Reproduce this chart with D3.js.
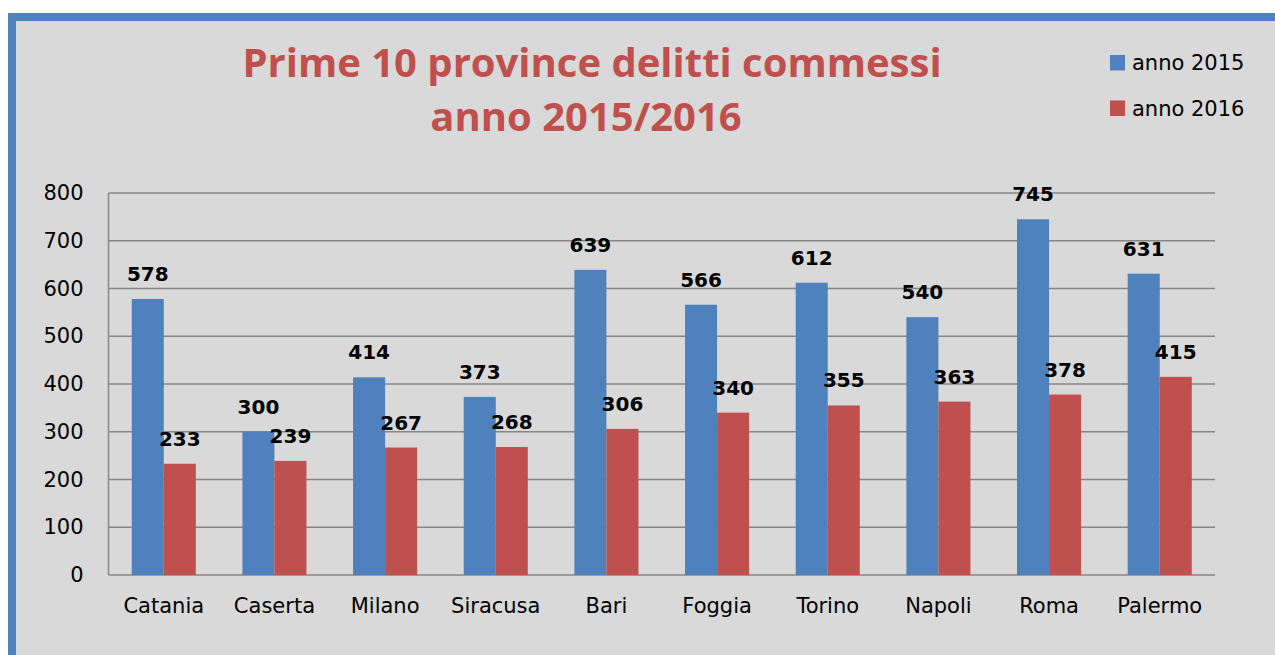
<!DOCTYPE html>
<html>
<head>
<meta charset="utf-8">
<script src="https://cdn.jsdelivr.net/npm/d3@7"></script>
<style>
  body { margin: 0; background: #fff; }
  svg { display: block; }
</style>
</head>
<body>
<div id="chart"></div>
<script>
const province = ["Catania", "Caserta", "Milano", "Siracusa", "Bari", "Foggia", "Torino", "Napoli", "Roma", "Palermo"];
const anno2015 = [578, 300, 414, 373, 639, 566, 612, 540, 745, 631];
const anno2016 = [233, 239, 267, 268, 306, 340, 355, 363, 378, 415];
const serie = ["anno 2015", "anno 2016"];
const colori = ["#4f81bd", "#c0504d"];
const yTicks = [0, 100, 200, 300, 400, 500, 600, 700, 800];

const W = 1275, H = 655;
const margin = { top: 193, right: 60, bottom: 80, left: 108.5 };

const svg = d3.select("#chart").append("svg")
    .attr("width", W)
    .attr("height", H);

// sfondo e bordo blu (solo sinistra e in alto visibili)
svg.append("rect").attr("x", 8).attr("y", 13).attr("width", W).attr("height", H)
    .attr("fill", "#4f81bd");
svg.append("rect").attr("x", 16).attr("y", 21).attr("width", W).attr("height", H)
    .attr("fill", "#d9d9d9");

const dati = province.map((p, i) => ({ provincia: p, valori: [anno2015[i], anno2016[i]] }));

const x = d3.scaleBand()
    .domain(province)
    .range([margin.left, 1215])
    .paddingInner(0.421)
    .paddingOuter(0.21);

const x1 = d3.scaleBand()
    .domain([0, 1])
    .range([0, x.bandwidth()]);

const y = d3.scaleLinear()
    .domain([0, 800])
    .range([575, margin.top]);

// griglia
svg.append("g")
    .selectAll("line")
    .data(yTicks)
    .enter()
    .append("line")
    .attr("x1", margin.left)
    .attr("x2", 1215)
    .attr("y1", d => y(d))
    .attr("y2", d => y(d))
    .attr("stroke", "#868686")
    .attr("stroke-width", 1.5);

svg.append("line")
    .attr("x1", margin.left).attr("x2", margin.left)
    .attr("y1", y(0)).attr("y2", y(800))
    .attr("stroke", "#868686")
    .attr("stroke-width", 1.5);

// asse y
const yAxis = svg.append("g")
    .attr("transform", `translate(${margin.left},0)`)
    .call(d3.axisLeft(y).tickValues(yTicks).tickSize(0).tickPadding(25));
yAxis.select(".domain").remove();
yAxis.selectAll("text")
    .attr("font-family", "DejaVu Sans")
    .attr("font-size", "21px")
    .attr("fill", "#000");

// asse x
const xAxis = svg.append("g")
    .attr("transform", `translate(0,${y(0)})`)
    .call(d3.axisBottom(x).tickSize(0).tickPadding(23));
xAxis.select(".domain").remove();
xAxis.selectAll("text")
    .attr("font-family", "DejaVu Sans")
    .attr("font-size", "21px")
    .attr("fill", "#000");

// barre
const gruppi = svg.append("g")
    .selectAll("g")
    .data(dati)
    .enter()
    .append("g")
    .attr("transform", d => `translate(${x(d.provincia)},0)`);

gruppi.selectAll("rect")
    .data(d => d.valori)
    .enter()
    .append("rect")
    .attr("x", (d, i) => x1(i))
    .attr("y", d => y(d))
    .attr("width", x1.bandwidth())
    .attr("height", d => y(0) - y(d))
    .attr("fill", (d, i) => colori[i]);

gruppi.selectAll("text")
    .data(d => d.valori)
    .enter()
    .append("text")
    .attr("x", (d, i) => x1(i) + x1.bandwidth() / 2)
    .attr("y", d => y(d) - 18)
    .attr("text-anchor", "middle")
    .attr("font-family", "DejaVu Sans")
    .attr("font-weight", "bold")
    .attr("font-size", "20px")
    .attr("fill", "#000")
    .text(d => d);

// titolo
const titolo = svg.append("text")
    .attr("text-anchor", "middle")
    .attr("font-family", "Open Sans")
    .attr("font-weight", "bold")
    .attr("font-size", "40px")
    .attr("fill", "#c0504d");
titolo.append("tspan").attr("x", 592).attr("y", 77).text("Prime 10 province delitti commessi");
titolo.append("tspan").attr("x", 586).attr("y", 131).text("anno 2015/2016");

// legenda
const legenda = svg.append("g")
    .selectAll("g")
    .data(serie)
    .enter()
    .append("g")
    .attr("transform", (d, i) => `translate(1110,${55 + i * 45.5})`);

legenda.append("rect")
    .attr("width", 15)
    .attr("height", 15.5)
    .attr("fill", (d, i) => colori[i]);

legenda.append("text")
    .attr("x", 22)
    .attr("y", 15)
    .attr("font-family", "DejaVu Sans")
    .attr("font-size", "21px")
    .attr("fill", "#000")
    .text(d => d);
</script>
</body>
</html>
